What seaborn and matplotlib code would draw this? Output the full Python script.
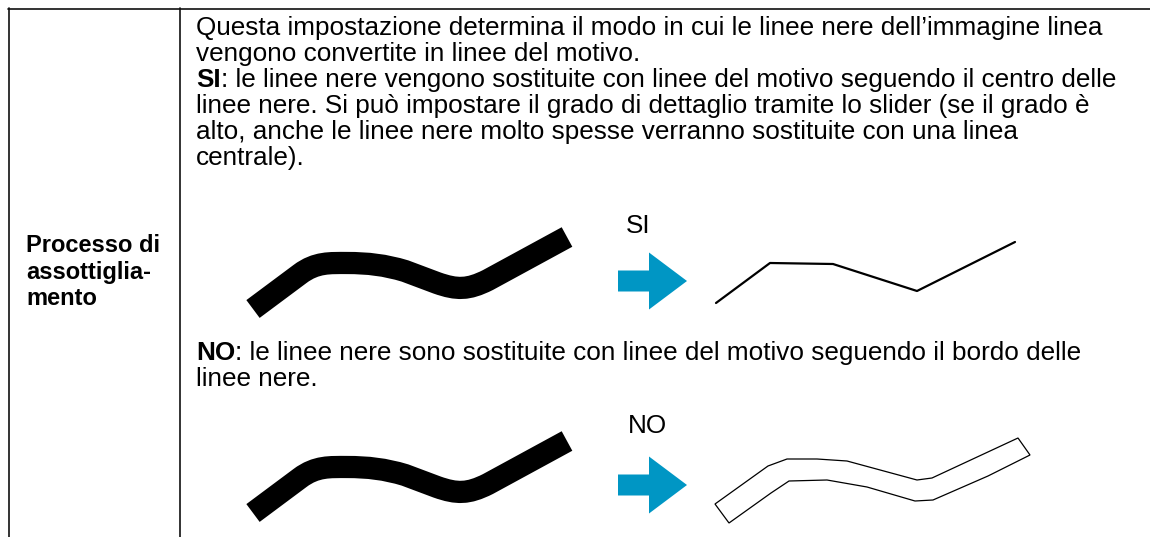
#%% import libraries
import numpy as np
import seaborn as sns
import matplotlib.pyplot as plt
from matplotlib.path import Path
from matplotlib.patches import PathPatch, Polygon

#%% data (pixel coordinates of the page, y grows downwards)
label_lines = ['Processo di', 'assottiglia-', 'mento']
intro_lines = [
    'Questa impostazione determina il modo in cui le linee nere dell\u2019immagine linea',
    'vengono convertite in linee del motivo.',
]
si_head = 'SI'
si_lines = [
    ': le linee nere vengono sostituite con linee del motivo seguendo il centro delle',
    'linee nere. Si pu\u00f2 impostare il grado di dettaglio tramite lo slider (se il grado \u00e8',
    'alto, anche le linee nere molto spesse verranno sostituite con una linea',
    'centrale).',
]
no_head = 'NO'
no_lines = [
    ': le linee nere sono sostituite con linee del motivo seguendo il bordo delle',
    'linee nere.',
]

# thick black stroke (centre line: move, line, cubic, cubic, line, cubic, line)
stroke_x = [253, 300, 316, 330, 347, 368, 385, 405, 437, 457, 468, 488, 567]
stroke_si_y = [309, 274, 262, 263, 263, 263, 265, 271, 283, 290, 290, 280, 237]
stroke_no_y = [513, 478, 466, 467, 467, 467, 469, 475, 487, 494, 494, 484, 441]
stroke_codes = [Path.MOVETO, Path.LINETO,
                Path.CURVE4, Path.CURVE4, Path.CURVE4,
                Path.CURVE4, Path.CURVE4, Path.CURVE4,
                Path.LINETO,
                Path.CURVE4, Path.CURVE4, Path.CURVE4,
                Path.LINETO]

# thinned result (SI)
thin_x = [716, 770, 833, 917, 1015]
thin_y = [303, 263, 264, 291, 242]

# outline result (NO)
outline_x = [715, 768, 787, 817, 847, 917, 932, 1018, 1030,
             988, 933, 915, 867, 827, 789, 771, 729]
outline_y = [504, 466, 459, 459, 461, 480, 478, 438, 455,
             476, 500, 501, 487, 480, 481, 493, 523]

# arrows: shaft left, head base, tip / centre y
arrow_x = [618, 649, 687]
arrow_y = [281, 485]
arrow_shaft_half = 10.5
arrow_head_half = 28.5

#%% figure
sns.set_theme(style='white')
plt.rcParams['font.family'] = ['Liberation Sans', 'DejaVu Sans']

fig = plt.figure(figsize=(11.5, 5.37), dpi=100)
ax = fig.add_axes([0, 0, 1, 1])
ax.set_xlim(0, 1150)
ax.set_ylim(537, 0)
ax.axis('off')

# table borders
line_kw = dict(color='#111111', lw=1.2)
ax.plot([8, 1150], [8.5, 8.5], **line_kw)
ax.plot([8.5, 8.5], [8, 537], **line_kw)
ax.plot([179.5, 179.5], [8, 537], **line_kw)

fs = 18.8
# left label
for i, t in enumerate(label_lines):
    ax.text(26, 252 + 26.5 * i, t, fontsize=17, fontweight='bold',
            va='baseline', ha='left', color='black')

# paragraph
tx = 196
for i, t in enumerate(intro_lines):
    ax.text(tx, 35 + 26 * i, t, fontsize=fs, va='baseline', color='black')


def bold_lead(y, head, lines):
    b = ax.text(tx, y, head, fontsize=fs, fontweight='bold', va='baseline', color='black')
    ax.annotate(lines[0], xy=(1, 0), xycoords=b, va='bottom', ha='left',
                fontsize=fs, color='black')
    for i, t in enumerate(lines[1:], start=1):
        ax.text(tx, y + 26 * i, t, fontsize=fs, va='baseline', color='black')


bold_lead(87, si_head, si_lines)
bold_lead(360, no_head, no_lines)

ax.text(626, 233, 'SI', fontsize=fs, va='baseline', color='black')
ax.text(628, 433, 'NO', fontsize=fs, va='baseline', color='black')

# thick strokes
for ys in (stroke_si_y, stroke_no_y):
    p = Path(np.column_stack([stroke_x, ys]), stroke_codes)
    ax.add_patch(PathPatch(p, fill=False, lw=16, color='black',
                           capstyle='butt', joinstyle='round'))

# arrows
for cy in arrow_y:
    pts = [(arrow_x[0], cy - arrow_shaft_half), (arrow_x[1], cy - arrow_shaft_half),
           (arrow_x[1], cy - arrow_head_half), (arrow_x[2], cy),
           (arrow_x[1], cy + arrow_head_half), (arrow_x[1], cy + arrow_shaft_half),
           (arrow_x[0], cy + arrow_shaft_half)]
    ax.add_patch(Polygon(pts, closed=True, color='#0096c4', lw=0))

# thinned line
sns.lineplot(x=thin_x, y=thin_y, sort=False, color='black', lw=1.6, ax=ax)

# outline
ax.add_patch(Polygon(np.column_stack([outline_x, outline_y]), closed=True,
                     fill=False, edgecolor='black', lw=0.9, joinstyle='miter'))

ax.set_xlim(0, 1150)
ax.set_ylim(537, 0)
ax.axis('off')
fig.savefig('out.png', dpi=100, facecolor='white')
